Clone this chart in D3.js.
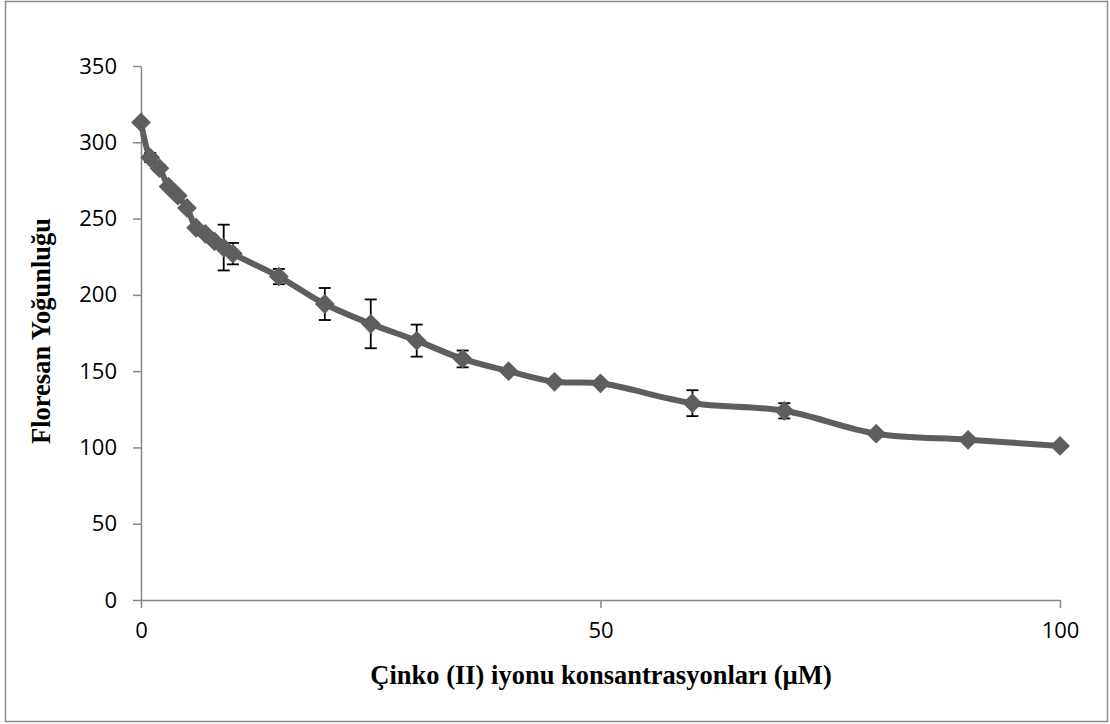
<!DOCTYPE html>
<html><head><meta charset="utf-8">
<script src="https://cdn.jsdelivr.net/npm/d3@7"></script>
<style>body{margin:0;background:#fff}</style>
</head><body>
<svg id="c" width="1110" height="724"></svg>
<script>
const concentrations = [0,1,2,3,4,5,6,7,8,9,10,15,20,25,30,35,40,45,50,60,70,80,90,100];
const intensity =      [313,290,283,271,265,257,244,240,235,231,227,212,194,181,170,158,150,143,142,129,124,109,105,101];
const errors =         [0,3,2,0,0,0,0,0,0,15,7,5,10.5,16,10.5,5.5,0,0,0,8.5,5,0,0,0];
const xTicks = [0,50,100];
const yTicks = [0,50,100,150,200,250,300,350];
const xTitle = "Çinko (II) iyonu konsantrasyonları (µM)";
const yTitle = "Floresan Yoğunluğu";

const svg = d3.select("#c");
svg.append("rect").attr("x",5.5).attr("y",1.5).attr("width",1102).attr("height",720)
  .attr("fill","#fff").attr("stroke","#8c8c8c").attr("stroke-width",1.5);

const x = d3.scaleLinear().domain([0,100]).range([141,1060]);
const y = d3.scaleLinear().domain([0,350]).range([600,66]);
const axisColor = "#868686";

const gy = svg.append("g").attr("transform","translate(141,0)")
  .call(d3.axisLeft(y).tickValues(yTicks).tickSize(8).tickPadding(16).tickSizeOuter(0));
const gx = svg.append("g").attr("transform","translate(0,600)")
  .call(d3.axisBottom(x).tickValues(xTicks).tickSize(8).tickPadding(14).tickSizeOuter(0));
[gx,gy].forEach(g=>{
  g.select(".domain").attr("stroke",axisColor).attr("stroke-width",1.5);
  g.selectAll(".tick line").attr("stroke",axisColor).attr("stroke-width",1.5);
  g.selectAll(".tick text").attr("fill","#000").style("font-family","'Open Sans', sans-serif").style("font-size","22px");
});

const data = concentrations.map((c,i)=>({c, v:intensity[i], e:errors[i]}));

// error bars
const eb = svg.append("g").attr("stroke","#000").attr("stroke-width",1.8);
data.filter(d=>d.e>0).forEach(d=>{
  const cx = x(d.c);
  eb.append("line").attr("x1",cx).attr("x2",cx).attr("y1",y(d.v+d.e)).attr("y2",y(d.v-d.e));
  eb.append("line").attr("x1",cx-6).attr("x2",cx+6).attr("y1",y(d.v+d.e)).attr("y2",y(d.v+d.e));
  eb.append("line").attr("x1",cx-6).attr("x2",cx+6).attr("y1",y(d.v-d.e)).attr("y2",y(d.v-d.e));
});

const line = d3.line().x(d=>x(d.c)).y(d=>y(d.v)).curve(d3.curveCatmullRom.alpha(0.5));
svg.append("path").datum(data).attr("d",line).attr("fill","none")
  .attr("stroke","#5e5e5e").attr("stroke-width",6).attr("stroke-linejoin","round");

const sym = d3.symbol().type(d3.symbolDiamond2).size(250);
svg.append("g").selectAll("path").data(data).join("path")
  .attr("d",sym).attr("transform",d=>`translate(${x(d.c)},${y(d.v)})`)
  .attr("fill","#5e5e5e");

svg.append("text").attr("x",601).attr("y",684).attr("text-anchor","middle")
  .style("font-family","'Liberation Serif', serif").style("font-weight","bold").style("font-size","26.5px")
  .text(xTitle);
svg.append("text").attr("transform","translate(50,331) rotate(-90)").attr("text-anchor","middle")
  .style("font-family","'Liberation Serif', serif").style("font-weight","bold").style("font-size","26.5px")
  .text(yTitle);
</script>
</body></html>
